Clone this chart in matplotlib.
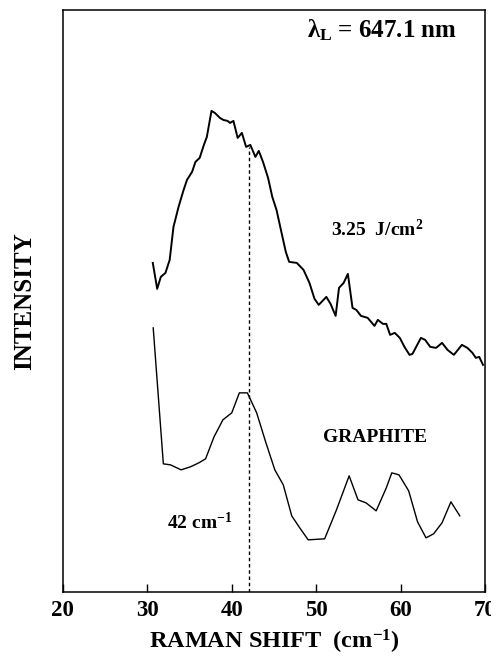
import matplotlib
matplotlib.use("Agg")
import matplotlib.pyplot as plt

plt.rcParams['font.family'] = ['Liberation Serif', 'DejaVu Serif']
plt.rcParams['font.weight'] = 'bold'
plt.rcParams['mathtext.fontset'] = 'custom'
plt.rcParams['mathtext.rm'] = 'Liberation Serif:bold'
plt.rcParams['mathtext.bf'] = 'Liberation Serif:bold'
plt.rcParams['mathtext.it'] = 'Liberation Serif:bold'

# laser-irradiated sample, 3.25 J/cm2 (arbitrary intensity units)
shift_irr = [30.65, 31.17, 31.6, 32.15, 32.65, 33.1, 33.7, 34.3, 34.7, 35.3, 35.7, 36.2,
             36.7, 37.05, 37.6, 38.0, 38.6, 39.0, 39.5, 39.8, 40.2, 40.7, 41.2, 41.7,
             42.2, 42.8, 43.2, 43.7, 44.3, 44.8, 45.3, 45.9, 46.4, 46.8, 47.7, 48.5,
             49.2, 49.8, 50.3, 51.2, 51.7, 52.3, 52.7, 53.25, 53.75, 54.3, 54.75, 55.3,
             56.1, 56.9, 57.3, 57.9, 58.3, 58.75, 59.3, 59.9, 60.45, 61.05, 61.4, 62.4,
             62.9, 63.5, 64.2, 64.9, 65.55, 66.3, 67.25, 67.9, 68.5, 68.9, 69.3, 69.75]
int_irr = [329, 303, 315, 319, 332, 365, 385, 402, 412, 420, 430, 434,
           447, 455, 481, 479, 474, 472, 471, 469, 471, 454, 459, 445,
           447, 435, 441, 430, 414, 395, 382, 359, 340, 330, 329, 322,
           309, 293, 287, 295, 288, 276, 304, 309, 318, 284, 282, 276,
           274, 266, 272, 268, 268, 257, 259, 254, 245, 237, 238, 254,
           252, 245, 244, 249, 242, 237, 247, 244, 239, 234, 235, 227]

# graphite reference
shift_gr = [30.7, 31.9, 32.75, 34.0, 35.1, 36.1, 36.9, 37.9, 38.95, 40.0, 40.9, 41.85,
            42.95, 44.05, 45.1, 46.1, 47.1, 48.05, 49.05, 51.0, 52.4, 53.9, 54.95, 55.9,
            57.1, 58.3, 58.95, 59.8, 60.95, 62.0, 63.0, 63.9, 64.9, 65.95, 67.0]
int_gr = [264, 128, 127, 122, 125, 129, 133, 155, 172, 179, 199, 199,
          179, 149, 122, 107, 76, 64, 52, 53, 82, 116, 92, 89,
          81, 104, 119, 117, 101, 70, 54, 58, 69, 90, 76]

peak_shift = 42
xticks = [20, 30, 40, 50, 60, 70]

fig = plt.figure(figsize=(4.91, 6.62), dpi=100)
ax = fig.add_axes([0.128, 0.106, 0.860, 0.879])

ax.plot(shift_irr, int_irr, color='black', lw=1.4)
ax.plot(shift_gr, int_gr, color='black', lw=1.0)
ax.plot([peak_shift, peak_shift], [0, 445], color='black', lw=1.0, linestyle=(0, (2.5, 2)))

ax.set_xlim(20, 70)
ax.set_ylim(0, 582)
ax.set_xticks(xticks)
ax.set_yticks([])
ax.tick_params(axis='x', direction='in', length=6, width=1, labelsize=16.5, pad=6)
for lab in ax.get_xticklabels():
    lab.set_fontweight('bold')
for sp in ax.spines.values():
    sp.set_linewidth(1.1)

ax.set_xlabel(r"RAMAN SHIFT  (cm$^{\mathrm{-}1}$)", fontsize=17.5, fontweight='bold', labelpad=5)
ax.set_ylabel("INTENSITY", fontsize=18, fontweight='bold', labelpad=19)

ax.text(0.755, 0.965, r"$\lambda_{\mathrm{L}}$ = 647.1 nm", transform=ax.transAxes,
        fontsize=18, fontweight='bold', ha='center', va='center')
ax.text(51.8, 362, r"3.25  J/cm$^{2}$", fontsize=14, fontweight='bold', va='center')
ax.text(50.85, 154, "GRAPHITE", fontsize=14, fontweight='bold', va='center')
ax.text(32.3, 69, r"42 cm$^{\mathrm{-}1}$", fontsize=14, fontweight='bold', va='center')

fig.savefig("out.png", dpi=100)
